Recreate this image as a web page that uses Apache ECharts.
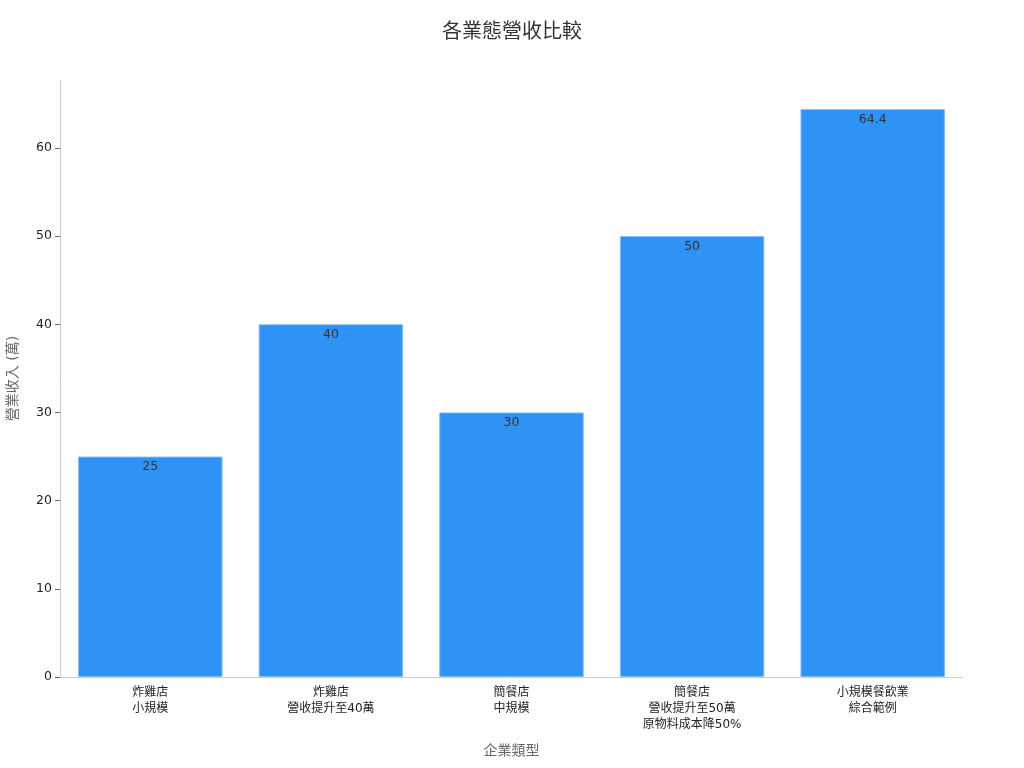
<!DOCTYPE html>
<html>
<head>
<meta charset="utf-8">
<script src="https://cdn.jsdelivr.net/npm/echarts@6/dist/echarts.min.js"></script>
<style>
  html, body { margin: 0; padding: 0; background: #fff; }
  #chart { width: 1024px; height: 768px; }
</style>
</head>
<body>
<div id="chart"></div>
<script>
// 類別與數值
var categories = ['炸雞店\n小規模', '炸雞店\n營收提升至40萬', '簡餐店\n中規模', '簡餐店\n營收提升至50萬\n原物料成本降50%', '小規模餐飲業\n綜合範例'];
var revenue = [25, 40, 30, 50, 64.4];
var yTicks = [0, 10, 20, 30, 40, 50, 60];

var fontFamily = '"DejaVu Sans", "Noto Sans CJK TC", sans-serif';
var chart = echarts.init(document.getElementById('chart'));

var option = {
    backgroundColor: '#fff',
    animation: false,
    textStyle: { fontFamily: fontFamily },
    title: {
        text: '各業態營收比較',
        left: 'center',
        top: 18,
        textStyle: { fontSize: 20, fontWeight: 'normal', color: '#333', fontFamily: fontFamily }
    },
    grid: {
        left: 60,
        right: 61,
        top: 80,
        bottom: 91,
        containLabel: false,
        outerBoundsMode: 'none'
    },
    xAxis: {
        type: 'category',
        data: categories,
        name: '企業類型',
        nameLocation: 'middle',
        nameGap: 67,
        nameTextStyle: { fontSize: 14, color: '#666' },
        axisLine: { lineStyle: { color: '#ccc' } },
        axisTick: { alignWithLabel: true, length: 5, lineStyle: { color: '#666' } },
        axisLabel: { color: '#222', fontSize: 12, lineHeight: 16, interval: 0, margin: 8 }
    },
    yAxis: {
        type: 'value',
        min: 0,
        max: 67.7,
        interval: 10,
        name: '營業收入 (萬)',
        nameLocation: 'middle',
        nameGap: 40,
        nameRotate: 90,
        nameTextStyle: { fontSize: 14, color: '#666' },
        axisLine: { show: true, lineStyle: { color: '#ccc' } },
        axisTick: { show: true, length: 5, lineStyle: { color: '#666' }, customValues: yTicks },
        splitLine: { show: false },
        axisLabel: {
            color: '#222',
            fontSize: 12.5,
            margin: 8,
            customValues: yTicks
        }
    },
    series: [{
        type: 'bar',
        data: revenue,
        barCategoryGap: '20%',
        itemStyle: { color: '#2f93f5', borderColor: '#86bdf3', borderWidth: 1 },
        label: {
            show: true,
            position: 'insideTop',
            distance: 4,
            color: '#333',
            fontSize: 12.5
        }
    }]
};

chart.setOption(option);
</script>
</body>
</html>
